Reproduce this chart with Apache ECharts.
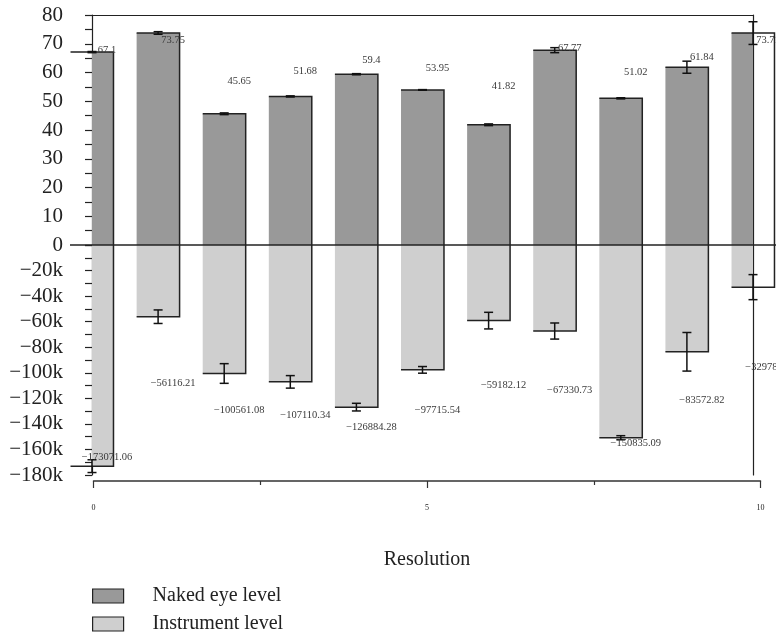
<!DOCTYPE html>
<html>
<head>
<meta charset="utf-8">
<script src="https://cdn.jsdelivr.net/npm/echarts@6/dist/echarts.min.js"></script>
<style>html,body{margin:0;padding:0;background:#fff}#c{width:776px;height:635px}</style>
</head>
<body>
<div id="c"></div>
<script>
// ---- data ----
const positions = [0, 1, 2, 3, 4, 5, 6, 7, 8, 9, 10];
const nakedEye = [67.1, 73.75, 45.65, 51.68, 59.4, 53.95, 41.82, 67.77, 51.02, 61.84, 73.71];
const nakedEyeErr = [0.2, 0.45, 0.3, 0.2, 0.2, 0.1, 0.3, 0.87, 0.2, 2.1, 3.95];
const instrument = [-173071.06, -56116.21, -100561.08, -107110.34, -126884.28, -97715.54, -59182.12, -67330.73, -150835.09, -83572.82, -32978.44];
const instrumentErr = [5000, 5300, 7700, 4900, 3000, 2600, 6500, 6300, 1600, 15100, 9800];
const xTicks = [0, 5, 10];

// ---- label placement (pixel offsets from bar end) ----
const labelDyTop = [-2, 7.7, -33, -24.7, -13.5, -21.6, -39, -2, -25.6, -9.5, 7.6];
const labelDyBottom = [-8.5, 66.6, 37.2, 33.8, 20.6, 40.1, 64.4, 59, 5.6, 48.9, 80.6];

const SERIF = '"Liberation Serif", "DejaVu Serif", serif';
const BAR_W = 0.65;
const INK = '#222';

function fmtTop(v) { return String(v); }
function fmtBottom(v) { return (v < 0 ? '\u2212' : '') + String(Math.abs(v)); }

function makeRender(fill, dyArr, fmt) {
  return function (params, api) {
    const i = params.dataIndex;
    const x = api.value(0), v = api.value(1), e = api.value(2);
    const base = api.coord([x, 0]);
    const end = api.coord([x, v]);
    const half = api.size([BAR_W, 0])[0] / 2;
    const cs = params.coordSys;
    const left = base[0] - half, right = base[0] + half;
    const l = Math.max(left, cs.x), r = Math.min(right, cs.x + cs.width);
    const y0 = Math.min(base[1], end[1]), h = Math.abs(base[1] - end[1]);
    const e1 = api.coord([x, v + e]), e2 = api.coord([x, v - e]);
    const cap = 4.5;
    const children = [
      { type: 'rect', shape: { x: l, y: y0, width: r - l, height: h }, style: { fill: fill } },
      { type: 'polyline', shape: { points: [[left, end[1]], [right, end[1]], [right, base[1]]] },
        style: { stroke: INK, lineWidth: 1.5, fill: null } },
      { type: 'line', shape: { x1: base[0], y1: e1[1], x2: base[0], y2: e2[1] }, style: { stroke: '#111', lineWidth: 1.5 } },
      { type: 'line', shape: { x1: base[0] - cap, y1: e1[1], x2: base[0] + cap, y2: e1[1] }, style: { stroke: '#111', lineWidth: 1.5 } },
      { type: 'line', shape: { x1: base[0] - cap, y1: e2[1], x2: base[0] + cap, y2: e2[1] }, style: { stroke: '#111', lineWidth: 1.5 } },
      { type: 'text', style: { text: fmt(v), x: base[0] + 15, y: end[1] + dyArr[i], align: 'center', verticalAlign: 'middle',
          fontSize: 10.5, fontFamily: SERIF, fill: '#3a3a3a' } }
    ];
    return { type: 'group', children: children };
  };
}

const topData = positions.map((p, i) => [p, nakedEye[i], nakedEyeErr[i]]);
const bottomData = positions.map((p, i) => [p, instrument[i], instrumentErr[i]]);

const chart = echarts.init(document.getElementById('c'), null, { renderer: 'canvas' });
chart.setOption({
  animation: false,
  backgroundColor: '#fff',
  grid: [
    { left: 92, right: 23, top: 15, height: 230 },
    { left: 92, right: 23, top: 245, height: 230 },
    { left: 93.5, right: 15.5, top: 480, height: 1 }
  ],
  xAxis: [
    { gridIndex: 0, type: 'value', min: 0, max: 10, position: 'top',
      axisLine: { show: true, onZero: false, lineStyle: { color: INK, width: 1.2 } }, axisTick: { show: false },
      axisLabel: { show: false }, splitLine: { show: false } },
    { gridIndex: 1, type: 'value', min: 0, max: 10, show: false },
    { gridIndex: 2, type: 'value', min: 0, max: 10, interval: 5, position: 'bottom',
      axisLine: { show: true, onZero: false, lineStyle: { color: '#333', width: 1.5 } },
      axisTick: { show: true, length: 7, lineStyle: { color: '#333', width: 1.2 } },
      minorTick: { show: true, splitNumber: 2, length: 4, lineStyle: { color: '#333', width: 1.2 } },
      axisLabel: { margin: 23, fontSize: 8, fontFamily: SERIF, color: '#222',
        formatter: v => (xTicks.indexOf(v) >= 0 ? String(v) : '') },
      splitLine: { show: false }, minorSplitLine: { show: false },
      name: 'Resolution', nameLocation: 'middle', nameGap: 69,
      nameTextStyle: { fontSize: 20, fontFamily: SERIF, color: '#222' } }
  ],
  yAxis: [
    { gridIndex: 0, type: 'value', min: 0, max: 80, interval: 10, position: 'left',
      axisLine: { show: true, onZero: false, lineStyle: { color: INK, width: 1.2 } },
      axisTick: { show: true, length: 7, lineStyle: { color: INK, width: 1.2 } },
      minorTick: { show: true, splitNumber: 2, length: 7, lineStyle: { color: INK, width: 1.2 } },
      axisLabel: { margin: 29, fontSize: 21, fontFamily: SERIF, color: INK },
      splitLine: { show: false } },
    { gridIndex: 0, type: 'value', min: 0, max: 1, position: 'right',
      axisLine: { show: true, onZero: false, lineStyle: { color: INK, width: 1.2 } },
      axisTick: { show: false }, axisLabel: { show: false }, splitLine: { show: false } },
    { gridIndex: 1, type: 'value', min: -180000, max: 0, interval: 20000, position: 'left',
      axisLine: { show: true, onZero: false, lineStyle: { color: INK, width: 1.2 } },
      axisTick: { show: true, length: 7, lineStyle: { color: INK, width: 1.2 } },
      minorTick: { show: true, splitNumber: 2, length: 7, lineStyle: { color: INK, width: 1.2 } },
      axisLabel: { margin: 29, fontSize: 21, fontFamily: SERIF, color: INK,
        formatter: v => (v === 0 ? '' : '\u2212' + Math.abs(v) / 1000 + 'k') },
      splitLine: { show: false } },
    { gridIndex: 1, type: 'value', min: 0, max: 1, position: 'right',
      axisLine: { show: true, onZero: false, lineStyle: { color: INK, width: 1.2 } },
      axisTick: { show: false }, axisLabel: { show: false }, splitLine: { show: false } },
    { gridIndex: 2, type: 'value', min: 0, max: 1, show: false }
  ],
  legend: {
    orient: 'vertical', left: 92, top: 586, icon: 'rect', padding: 0,
    itemWidth: 31, itemHeight: 14, itemGap: 8,
    textStyle: { fontSize: 20, fontFamily: SERIF, color: INK, lineHeight: 20, padding: [0, 0, 0, 24] },
    data: [
      { name: 'Naked eye level', itemStyle: { color: '#999999', borderColor: '#222', borderWidth: 1.2 } },
      { name: 'Instrument level', itemStyle: { color: '#cfcfcf', borderColor: '#222', borderWidth: 1.2 } }
    ]
  },
  series: [
    { type: 'custom', name: 'Naked eye level', xAxisIndex: 0, yAxisIndex: 0, clip: false,
      itemStyle: { color: '#999999' }, encode: { x: 0, y: 1 }, data: topData,
      renderItem: makeRender('#999999', labelDyTop, fmtTop), z: 2 },
    { type: 'custom', name: 'Instrument level', xAxisIndex: 1, yAxisIndex: 2, clip: false,
      itemStyle: { color: '#cfcfcf' }, encode: { x: 0, y: 1 }, data: bottomData,
      renderItem: makeRender('#cfcfcf', labelDyBottom, fmtBottom), z: 2 },
    { type: 'custom', name: 'zero', xAxisIndex: 0, yAxisIndex: 0, clip: false, silent: true, z: 5,
      data: [[0, 0]],
      renderItem: function (params, api) {
        const p = api.coord([api.value(0), api.value(1)]);
        return { type: 'line', shape: { x1: p[0] - 22, y1: p[1], x2: api.getWidth(), y2: p[1] },
          style: { stroke: INK, lineWidth: 1.3 } };
      } }
  ]
});
</script>
</body>
</html>
